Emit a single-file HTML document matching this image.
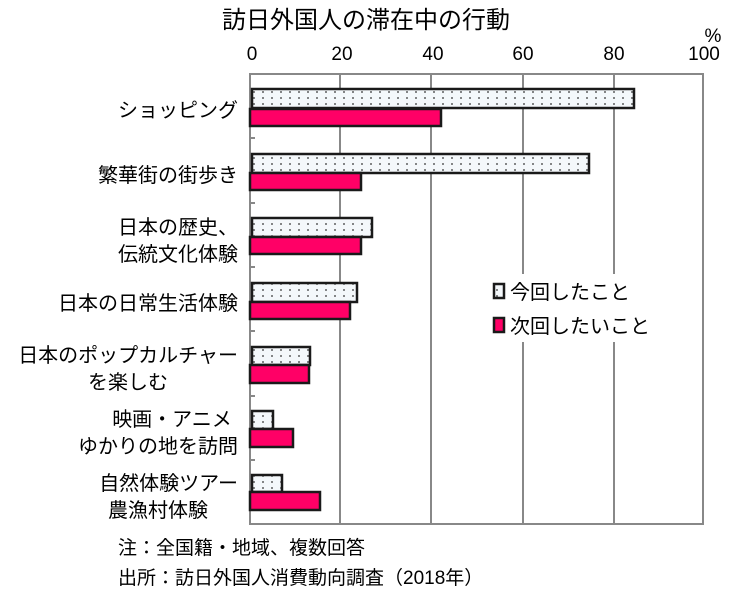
<!DOCTYPE html>
<html><head><meta charset="utf-8"><style>
body{margin:0;background:#fff}
svg text{font-family:"Liberation Sans","Noto Sans CJK JP",sans-serif;fill:#000}
</style></head><body>
<svg width="750" height="596" viewBox="0 0 750 596" xmlns="http://www.w3.org/2000/svg">
<defs>
<pattern id="dots" width="9" height="6" patternUnits="userSpaceOnUse">
<rect width="9" height="6" fill="#f4f8fb"/>
<circle cx="2" cy="2" r="0.9" fill="#333"/>
</pattern>
</defs>
<text x="366" y="28" font-size="24" text-anchor="middle">訪日外国人の滞在中の行動</text>
<text x="713" y="42" font-size="19" text-anchor="middle">%</text>
<g font-size="19" text-anchor="middle">
<text x="252" y="60">0</text><text x="342" y="60">20</text><text x="433" y="60">40</text>
<text x="523" y="60">60</text><text x="614" y="60">80</text><text x="704" y="60">100</text>
</g>
<g stroke="#888" stroke-width="2">
<line x1="340" y1="74" x2="340" y2="524"/>
<line x1="431" y1="74" x2="431" y2="524"/>
<line x1="523" y1="74" x2="523" y2="524"/>
<line x1="614" y1="74" x2="614" y2="524"/>
<line x1="703" y1="74" x2="703" y2="524"/>
<line x1="250" y1="74" x2="704" y2="74"/>
<line x1="250" y1="524" x2="704" y2="524"/>
<line x1="250" y1="73" x2="250" y2="525"/>
<line x1="250" y1="138" x2="255" y2="138"/><line x1="250" y1="203" x2="255" y2="203"/>
<line x1="250" y1="267" x2="255" y2="267"/><line x1="250" y1="331" x2="255" y2="331"/>
<line x1="250" y1="396" x2="255" y2="396"/><line x1="250" y1="460" x2="255" y2="460"/>
</g>
<g stroke="#1a1a1a" stroke-width="2.5">
<rect x="252" y="89" width="382" height="19" fill="url(#dots)"/>
<rect x="250" y="109" width="191" height="17" fill="#ff0066"/>
<rect x="252" y="154" width="337" height="19" fill="url(#dots)"/>
<rect x="250" y="173" width="111" height="17" fill="#ff0066"/>
<rect x="252" y="218" width="120" height="19" fill="url(#dots)"/>
<rect x="250" y="237" width="111" height="17" fill="#ff0066"/>
<rect x="252" y="283" width="105" height="19" fill="url(#dots)"/>
<rect x="250" y="302" width="100" height="17" fill="#ff0066"/>
<rect x="252" y="347" width="58" height="18" fill="url(#dots)"/>
<rect x="250" y="365" width="59" height="18" fill="#ff0066"/>
<rect x="252" y="411" width="21" height="18" fill="url(#dots)"/>
<rect x="250" y="429" width="43" height="18" fill="#ff0066"/>
<rect x="252" y="475" width="30" height="17" fill="url(#dots)"/>
<rect x="250" y="492" width="70" height="18" fill="#ff0066"/>
</g>
<rect x="482" y="274" width="170" height="68" fill="#fff"/>
<rect x="494" y="284" width="10" height="14" fill="url(#dots)" stroke="#1a1a1a" stroke-width="2.5"/>
<rect x="494" y="318" width="10" height="14" fill="#ff0066" stroke="#1a1a1a" stroke-width="2.5"/>
<text x="510" y="299" font-size="20">今回したこと</text>
<text x="510" y="333" font-size="20">次回したいこと</text>
<g font-size="20" text-anchor="end">
<text x="238" y="117">ショッピング</text>
<text x="238" y="182">繁華街の街歩き</text>
<text x="238" y="234">日本の歴史、</text>
<text x="238" y="261">伝統文化体験</text>
<text x="238" y="310">日本の日常生活体験</text>
<text x="238" y="362">日本のポップカルチャー</text>
<text x="238" y="453">ゆかりの地を訪問</text>
<text x="238" y="490">自然体験ツアー</text>
</g>
<g font-size="20" text-anchor="middle">
<text x="128" y="389">を楽しむ</text>
<text x="172" y="426">映画・アニメ</text>
<text x="158" y="517">農漁村体験</text>
</g>
<text x="118" y="554" font-size="19">注：全国籍・地域、複数回答</text>
<text x="118" y="584" font-size="19">出所：訪日外国人消費動向調査（2018年）</text>
</svg>
</body></html>
